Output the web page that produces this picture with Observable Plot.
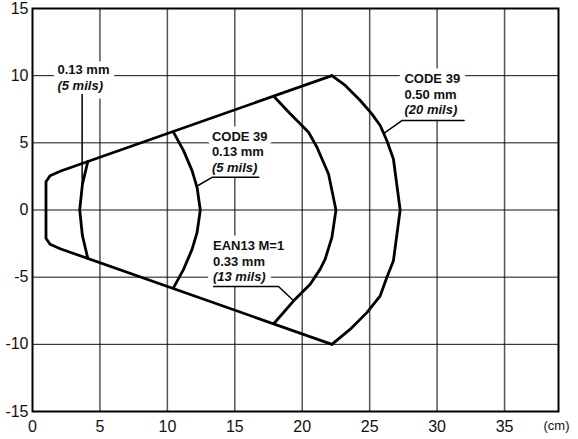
<!DOCTYPE html>
<html><head><meta charset="utf-8">
<script src="https://cdn.jsdelivr.net/npm/d3@7"></script>
<script src="https://cdn.jsdelivr.net/npm/@observablehq/plot@0.6"></script>
<style>body{margin:0;background:#fff;} #chart svg{display:block}</style>
</head><body><div id="chart"></div>
<script>
// ---- data (cm) ----
const xTicks = [0, 5, 10, 15, 20, 25, 30, 35];
const yTicks = [-15, -10, -5, 0, 5, 10, 15];

// outer field envelope (upper edge, left cap, lower edge)
const envX = [22.2, 2.1, 1.3, 1.0, 1.0, 1.3, 2.1, 22.2];
const envY = [10, 2.9, 2.55, 2.1, -2.1, -2.55, -2.9, -10];

// read-range arcs
const arc5milsX  = [4.1, 3.7, 3.5, 3.7, 4.1];
const arc5milsY  = [3.6, 1.9, 0, -1.9, -3.6];
const arcC39_13X = [10.45, 11.2, 11.83, 12.2, 12.44, 12.2, 11.83, 11.2, 10.45];
const arcC39_13Y = [5.8, 4.42, 2.93, 1.69, 0, -1.69, -2.93, -4.42, -5.8];
const arcEAN13X  = [17.9, 19.11, 20.47, 21.09, 21.95, 22.5, 22.2, 21.7, 21.33, 20.59, 19.36, 17.9];
const arcEAN13Y  = [8.45, 7.16, 5.79, 4.67, 2.68, 0, -2.04, -3.65, -4.4, -5.52, -6.76, -8.45];
const arcC39_50X = [22.2, 23.19, 24.3, 25.16, 25.78, 26.27, 26.76, 27.26, 26.76, 26.27, 25.78, 24.79, 23.56, 22.2];
const arcC39_50Y = [10, 9.27, 8.15, 7.16, 6.29, 5.17, 3.8, 0, -3.78, -5.03, -6.39, -7.64, -8.87, -10];

// leader lines (underline + pointer)
const lead1X = [3.68, 3.68];            const lead1Y = [8.6, 1.94];
const lead2X = [16.77, 13.31, 12.15];   const lead2Y = [2.43, 2.43, 1.75];
const lead3X = [13.43, 18.24, 19.36];   const lead3Y = [-5.7, -5.7, -6.76];
const lead4X = [32.0, 27.39, 26.05];    const lead4Y = [6.66, 6.66, 5.7];

// label lines
const labelText   = ["0.13 mm", "(5 mils)",
                     "CODE 39", "0.13 mm", "(5 mils)",
                     "EAN13 M=1", "0.33 mm", "(13 mils)",
                     "CODE 39", "0.50 mm", "(20 mils)"];
const labelX      = [1.85, 1.85, 13.3, 13.3, 13.3, 13.38, 13.38, 13.38, 27.58, 27.58, 27.58];
const labelY      = [10.45, 9.26, 5.47, 4.3, 3.15, -2.68, -3.88, -5.01, 9.77, 8.55, 7.44];
const labelItalic = [false, true, false, false, true, false, false, true, false, false, true];

// ---- build tables ----
const toPts = (xs, ys, id) => xs.map((x, i) => ({x, y: ys[i], id}));
const arcs = [
  ...toPts(arc5milsX, arc5milsY, "a1"),
  ...toPts(arcC39_13X, arcC39_13Y, "a2"),
  ...toPts(arcEAN13X, arcEAN13Y, "a3"),
  ...toPts(arcC39_50X, arcC39_50Y, "a4")
];
const envelope = toPts(envX, envY, "env");
const leaders = [
  ...toPts(lead1X, lead1Y, "l1"),
  ...toPts(lead2X, lead2Y, "l2"),
  ...toPts(lead3X, lead3Y, "l3"),
  ...toPts(lead4X, lead4Y, "l4")
];
const labels = labelText.map((t, i) => ({text: t, x: labelX[i], y: labelY[i], italic: labelItalic[i]}));

const txtCommon = {
  x: "x", y: "y", text: "text", textAnchor: "start", lineAnchor: "middle",
  fontSize: 13, fontWeight: "bold", fill: "#111",
  stroke: "white", strokeWidth: 11, paintOrder: "stroke", strokeLinejoin: "round"
};

const chart = Plot.plot({
  width: 578, height: 439,
  marginLeft: 32, marginRight: 20, marginTop: 8, marginBottom: 28,
  x: {domain: [0, 39]},
  y: {domain: [-15, 15]},
  style: {fontFamily: "'Liberation Sans', Arial, sans-serif", fontSize: "16px", background: "white", color: "#111"},
  marks: [
    Plot.ruleX(xTicks.filter(d => d > 0), {stroke: "#555", strokeWidth: 1.5}),
    Plot.ruleY(yTicks.filter(d => d > -15 && d < 15), {stroke: "#111", strokeWidth: 1}),
    Plot.axisX({ticks: xTicks, tickSize: 0, tickPadding: 9, label: null, tickFormat: d => String(d)}),
    Plot.axisY({ticks: yTicks, tickSize: 0, tickPadding: 4, label: null, tickFormat: d => String(d)}),
    Plot.text(labels.filter(d => !d.italic), {...txtCommon}),
    Plot.text(labels.filter(d => d.italic), {...txtCommon, fontStyle: "italic"}),
    Plot.line(envelope, {x: "x", y: "y", z: "id", stroke: "#000", strokeWidth: 2.8, strokeLinejoin: "round"}),
    Plot.line(arcs, {x: "x", y: "y", z: "id", stroke: "#000", strokeWidth: 2.8, strokeLinejoin: "round"}),
    Plot.line(leaders, {x: "x", y: "y", z: "id", stroke: "#000", strokeWidth: 1.5}),
    Plot.frame({stroke: "#000", strokeWidth: 2}),
    Plot.text(["(cm)"], {text: d => d, frameAnchor: "bottom-right", dx: 11, dy: 14, textAnchor: "end", lineAnchor: "middle", fontSize: 13, fill: "#111"})
  ]
});
document.getElementById("chart").appendChild(chart);
</script>
</body></html>
